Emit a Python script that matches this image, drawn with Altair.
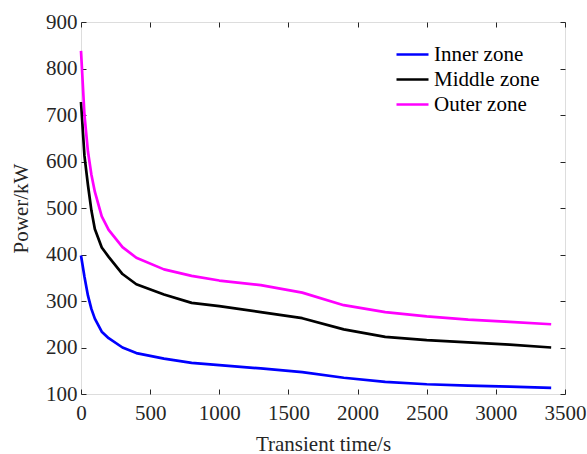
import altair as alt
import pandas as pd

time_s = [0, 25, 50, 75, 100, 150, 200, 300, 400, 600, 800, 1000, 1300, 1600, 1900, 2200, 2500, 2800, 3100, 3400]
inner = [398, 352, 312, 283, 262, 234, 220, 200, 188, 176, 167, 162, 155, 147, 135, 126, 121, 118, 116, 113]
middle = [728, 612, 550, 495, 455, 415, 395, 358, 336, 314, 296, 289, 276, 263, 239, 223, 216, 211, 206, 200]
outer = [838, 700, 622, 572, 535, 482, 453, 416, 393, 368, 354, 344, 334, 318, 291, 276, 267, 260, 255, 250]

zones = ["Inner zone", "Middle zone", "Outer zone"]
colors = ["#0000FF", "#000000", "#FF00FF"]
x_ticks = [0, 500, 1000, 1500, 2000, 2500, 3000, 3500]
y_ticks = [100, 200, 300, 400, 500, 600, 700, 800, 900]

rows = []
for name, vals in zip(zones, [inner, middle, outer]):
    for t, v in zip(time_s, vals):
        rows.append({"t": t, "power": v, "zone": name})
df = pd.DataFrame(rows)

FONT = "Liberation Serif"
TXT = "#262626"
xscale = alt.Scale(domain=[0, 3500], nice=False, zero=False)
yscale = alt.Scale(domain=[100, 900], nice=False, zero=False)

common_axis = dict(offset=-5, tickSize=5, domain=False, grid=False, format="d",
                   tickColor=TXT, labelColor=TXT, titleColor=TXT,
                   labelFont=FONT, titleFont=FONT, labelFontSize=21,
                   titleFontSize=21, titleFontWeight="normal")

lines = alt.Chart(df).mark_line(strokeWidth=2.7, strokeJoin="round").encode(
    x=alt.X("t:Q", scale=xscale,
            axis=alt.Axis(title="Transient time/s", values=x_ticks, orient="bottom",
                          labelPadding=8, titlePadding=10, labelFlush=False,
                          **common_axis)),
    y=alt.Y("power:Q", scale=yscale,
            axis=alt.Axis(title="Power/kW", values=y_ticks, orient="left",
                          labelPadding=4, titlePadding=14, labelFlush=False,
                          **common_axis)),
    color=alt.Color("zone:N", scale=alt.Scale(domain=zones, range=colors),
                    legend=alt.Legend(title=None, orient="none", legendX=314, legendY=20,
                                      symbolType="stroke", symbolSize=1024,
                                      symbolStrokeWidth=2.7, labelFont=FONT,
                                      labelFontSize=21, labelColor="#000000",
                                      labelOffset=4, rowPadding=0, clipHeight=25,
                                      padding=0)),
)

mirror = alt.Chart(df).mark_line(opacity=0).encode(
    x=alt.X("t:Q", scale=xscale,
            axis=alt.Axis(title="", values=x_ticks, orient="top", labels=False,
                          **common_axis)),
    y=alt.Y("power:Q", scale=yscale,
            axis=alt.Axis(title="", values=y_ticks, orient="right", labels=False,
                          **common_axis)),
    detail="zone:N",
)

chart = alt.layer(lines, mirror).resolve_axis(x="independent", y="independent").properties(
    width=484, height=372,
    autosize=alt.AutoSizeParams(type="none"),
    padding={"left": 81, "top": 22, "right": 22, "bottom": 60},
).configure_view(stroke=TXT, strokeWidth=1.2).configure(background="white")

chart.save("out.html", embed_options={"renderer": "svg", "actions": False})
